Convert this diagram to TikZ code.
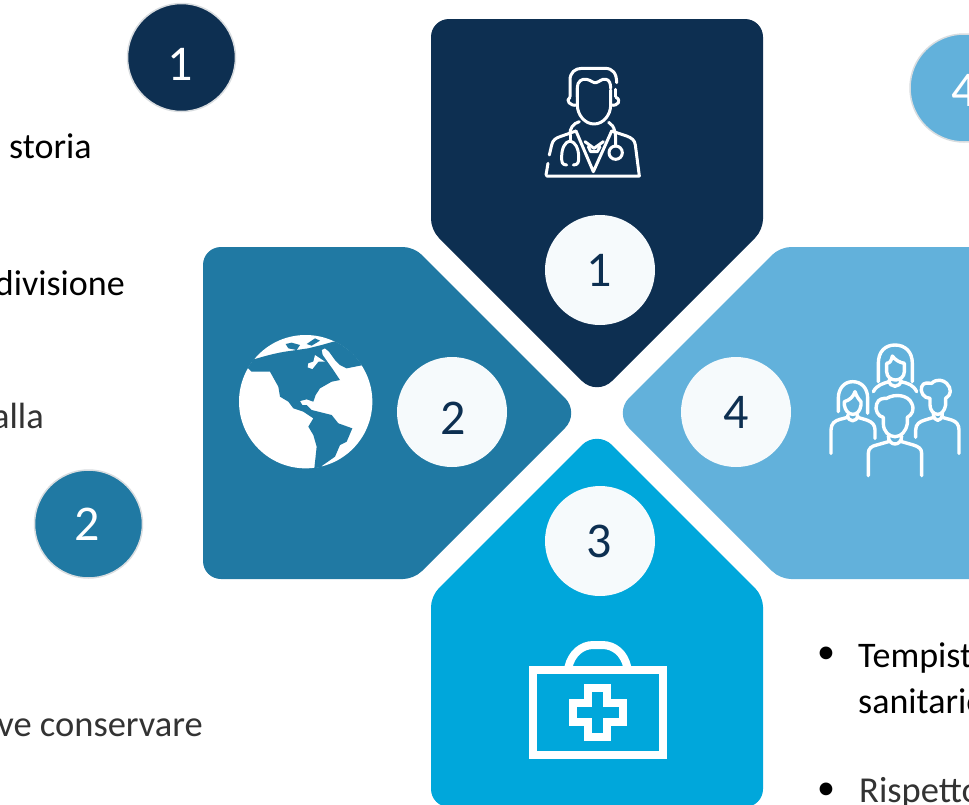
\documentclass[tikz,border=0pt]{standalone}
\usepackage{fontspec}
\setmainfont{Carlito}
\definecolor{navy}{HTML}{0D2F51}
\definecolor{teal2}{HTML}{2079A3}
\definecolor{cyan2}{HTML}{00A7DB}
\definecolor{sky2}{HTML}{62B1DB}
\definecolor{pale}{HTML}{F6FAFC}
\definecolor{rim}{HTML}{D9DDE0}
\definecolor{lighttext}{HTML}{333333}
\newcommand{\petalshape}{(449,19) -- (745,19) .. controls (755,19) and (763,27) .. (763,37) -- (763,219) .. controls (763,225) and (760,233) .. (755,238) -- (612,381) .. controls (603.75,389.25) and (590.25,389.25) .. (582,381) -- (439,238) .. controls (434,233) and (431,225) .. (431,219) -- (431,37) .. controls (431,27) and (439,19) .. (449,19) -- cycle}
\tikzset{
  bignum/.style={circle,fill=pale,minimum size=110pt,inner sep=0pt,text=navy,font=\fontsize{50}{50}\selectfont},
  smallnum/.style={circle,draw=rim,line width=1.5pt,minimum size=108pt,inner sep=0pt,text=white,font=\fontsize{50}{50}\selectfont},
  strongtext/.style={inner sep=0pt,text=black,font=\fontsize{36}{36}\selectfont},
  lighter/.style={inner sep=0pt,text=lighttext,font=\fontsize{36.5}{36.5}\selectfont},
  icon/.style={draw=white,fill=none,line cap=round,line join=round},
  docline/.style={icon,line width=3pt},
  folkline/.style={icon,line width=3.4pt},
  kitline/.style={draw=white,line width=8pt,line join=miter},
  zoomed/.style={x=.33333pt,y=-.33333pt},
}
\begin{document}
\begin{tikzpicture}[x=1pt,y=-1pt]
\clip (0,0) rectangle (969,804);
\fill[white] (0,0) rectangle (969,804);
% petals
\fill[navy] \petalshape;
\fill[teal2,rotate around={90:(597,413)}] \petalshape;
\fill[cyan2,rotate around={180:(597,413)}] \petalshape;
\fill[sky2,rotate around={-90:(597,413)}] \petalshape;
% number discs
\node[bignum] (n1) at (600,270) {\hspace*{-1pt}1};
\node[bignum] (n2) at (452,412) {\raisebox{-22pt}[0pt][0pt]{\hspace*{2pt}2}};
\node[bignum] (n3) at (600,541) {\hspace*{-1pt}3};
\node[bignum] (n4) at (736,412) {4};
\node[smallnum,fill=navy] (s1) at (181.5,57.5) {\raisebox{-22.5pt}[0pt][0pt]{\hspace*{-3pt}1}};
\node[smallnum,fill=teal2] (s2) at (88.5,524) {\raisebox{-16pt}[0pt][0pt]{\hspace*{-3pt}2}};
\node[smallnum,fill=sky2] (s4) at (964,88) {\raisebox{-18pt}[0pt][0pt]{4}};
% texts
\node[strongtext,anchor=base west] (t1) at (9,158) {storia};
\node[strongtext,anchor=base east] (t2) at (125,295) {divisione};
\node[lighter,anchor=base east] (t3) at (44,428) {alla};
\node[lighter,anchor=base east] (t4) at (203,736) {ve conservare};
\node[strongtext,anchor=base west] (t5) at (858,667) {Tempist};
\node[strongtext,anchor=base west] (t6) at (858,713) {sanitario};
\node[lighter,anchor=base west] (t7) at (859,802) {Rispetto};
\node[strongtext] (b1) at (826,655) {•};
\node[strongtext] (b2) at (826,791) {•};
% doctor
\begin{scope}[shift={(520,50)},zoomed]
\draw[docline] (150,140) -- (150,90) .. controls (150,68) and (165,55) .. (185,55) -- (255,55) .. controls (278,55) and (290,70) .. (290,98);
\draw[docline] (172,140) -- (172,112) .. controls (172,95) and (185,85) .. (200,88) .. controls (212,90) and (220,100) .. (228,98) .. controls (240,95) and (245,85) .. (258,88) .. controls (268,90) and (272,100) .. (272,115);
\draw[docline] (287,118) -- (287,140);
\draw[docline] (172,115) -- (172,165) .. controls (172,195) and (195,222) .. (222,222) .. controls (250,222) and (272,195) .. (272,165) -- (272,120);
\draw[docline] (172,165) .. controls (150,170) and (135,150) .. (150,142);
\draw[docline] (272,165) .. controls (295,170) and (305,150) .. (288,142);
\draw[docline] (80,378) -- (358,378) -- (346,285) .. controls (344,270) and (335,264) .. (320,258) -- (275,243);
\draw[docline] (78,375) -- (84,340);
\draw[docline] (88,315) -- (95,285) .. controls (98,270) and (108,264) .. (120,260) -- (168,243);
\draw[docline] (168,243) -- (220,365) -- (275,243);
\draw[docline] (195,275) -- (222,295) -- (250,275);
\draw[docline] (205,290) -- (212,305) -- (232,305) -- (240,290);
\draw[docline] (150,255) .. controls (148,235) and (160,220) .. (178,215);
\draw[docline] (266,217) .. controls (285,228) and (288,250) .. (287,288);
\draw[docline] (287,308) circle[radius=20];
\draw[docline] (140,345) .. controls (125,345) and (125,335) .. (125,320) .. controls (125,295) and (135,275) .. (150,273) .. controls (165,275) and (176,295) .. (176,320) .. controls (176,335) and (176,345) .. (160,345);
\draw[docline] (150,255) -- (150,273);
\end{scope}
% globe
\begin{scope}[shift={(225,320)},zoomed]
\fill[white] (242,245) circle[radius=200];
\clip (242,245) circle[radius=201];
\fill[teal2] (90,117) .. controls (120,108) and (150,100) .. (180,95) -- (250,85) -- (290,75) -- (325,65) -- (450,60) -- (415,135) -- (365,145) -- (345,135) -- (330,120) -- (312,95) -- (300,85) -- (290,90) -- (293,105) -- (325,150) -- (345,180) -- (320,185) -- (285,205) -- (272,225) -- (265,245) -- (245,238) -- (225,243) -- (232,255) -- (245,255) -- (260,270) -- (280,275) -- (320,285) -- (340,310) -- (382,325) -- (365,365) -- (345,375) -- (330,410) -- (290,438) -- (300,470) -- (265,470) -- (268,445) -- (275,380) -- (265,345) -- (250,320) -- (265,295) -- (235,275) -- (205,265) -- (190,245) -- (165,230) -- (160,200) -- (135,155) -- (80,155) -- (70,145) -- (20,130) -- (60,100) -- cycle;
\fill[white] (250,130) -- (265,125) -- (270,105) -- (285,115) -- (300,125) -- (280,125) -- (262,147) -- (248,142) -- cycle;
\fill[teal2] (182,72) -- (200,68) -- (225,75) -- (215,90) -- (190,85) -- cycle;
\fill[teal2] (245,72) -- (270,55) -- (285,62) -- (260,77) -- cycle;
\end{scope}
% people
\begin{scope}[shift={(815,330)},zoomed]
% top woman
\draw[folkline] (190,155) -- (190,100) .. controls (190,65) and (210,45) .. (240,45) .. controls (270,45) and (292,65) .. (292,100) -- (292,155);
\draw[folkline] (215,100) .. controls (225,100) and (230,90) .. (232,78) .. controls (240,90) and (255,98) .. (268,100) -- (268,125) .. controls (268,140) and (255,150) .. (242,150) .. controls (228,150) and (215,140) .. (215,125) -- cycle;
\draw[folkline] (222,150) .. controls (222,175) and (258,175) .. (258,150);
\draw[folkline] (175,185) .. controls (185,165) and (205,160) .. (222,155);
\draw[folkline] (258,155) .. controls (280,160) and (295,165) .. (305,185);
% left woman
\draw[folkline] (70,245) -- (70,205) .. controls (70,175) and (88,155) .. (113,155) .. controls (140,155) and (158,175) .. (158,205) -- (158,250);
\draw[folkline] (88,215) .. controls (105,210) and (115,200) .. (120,185) .. controls (125,200) and (133,210) .. (138,215) -- (138,225) .. controls (135,245) and (125,253) .. (113,253) .. controls (100,253) and (90,240) .. (88,225) -- cycle;
\draw[folkline] (48,370) -- (48,300) .. controls (48,280) and (60,272) .. (75,268) -- (98,262);
\draw[folkline] (98,255) .. controls (98,278) and (128,278) .. (128,255);
\draw[folkline] (128,262) -- (155,270) .. controls (172,276) and (180,285) .. (180,300) -- (180,325);
% right man
\draw[folkline] (345,205) .. controls (325,205) and (315,185) .. (320,170) .. controls (325,155) and (340,160) .. (350,160) .. controls (365,145) and (385,150) .. (395,160) .. controls (410,175) and (410,195) .. (392,205) -- (392,225) .. controls (388,245) and (378,253) .. (368,253) .. controls (355,253) and (345,240) .. (345,225) -- cycle;
\draw[folkline] (355,250) .. controls (355,278) and (382,278) .. (382,250);
\draw[folkline] (302,322) -- (302,300) .. controls (302,282) and (315,274) .. (330,270) -- (353,263);
\draw[folkline] (385,263) -- (410,270) .. controls (425,275) and (432,285) .. (432,300) -- (432,370);
% centre man
\draw[folkline] (205,262) .. controls (190,260) and (178,240) .. (185,222) .. controls (190,205) and (205,205) .. (215,205) .. controls (240,190) and (280,195) .. (290,220) .. controls (300,240) and (290,255) .. (277,262) -- (277,280) .. controls (273,305) and (258,320) .. (240,320) .. controls (222,320) and (205,305) .. (205,280) -- cycle;
\draw[folkline] (220,318) .. controls (220,350) and (260,350) .. (260,318);
\draw[folkline] (160,437) -- (160,370) .. controls (160,355) and (170,348) .. (185,345) -- (220,335);
\draw[folkline] (260,335) -- (295,345) .. controls (310,350) and (320,355) .. (320,370) -- (320,437);
\end{scope}
% medical kit
\begin{scope}[shift={(515,630)},zoomed]
\draw[kitline] (53,121) rectangle (444,374);
\draw[kitline] (160,112) .. controls (170,70) and (200,45) .. (235,45) -- (262,45) .. controls (298,45) and (328,70) .. (337,112);
\draw[kitline] (220,175) -- (277,175) -- (277,220) -- (325,220) -- (325,275) -- (277,275) -- (277,322) -- (220,322) -- (220,275) -- (173,275) -- (173,220) -- (220,220) -- cycle;
\end{scope}
\end{tikzpicture}
\end{document}
